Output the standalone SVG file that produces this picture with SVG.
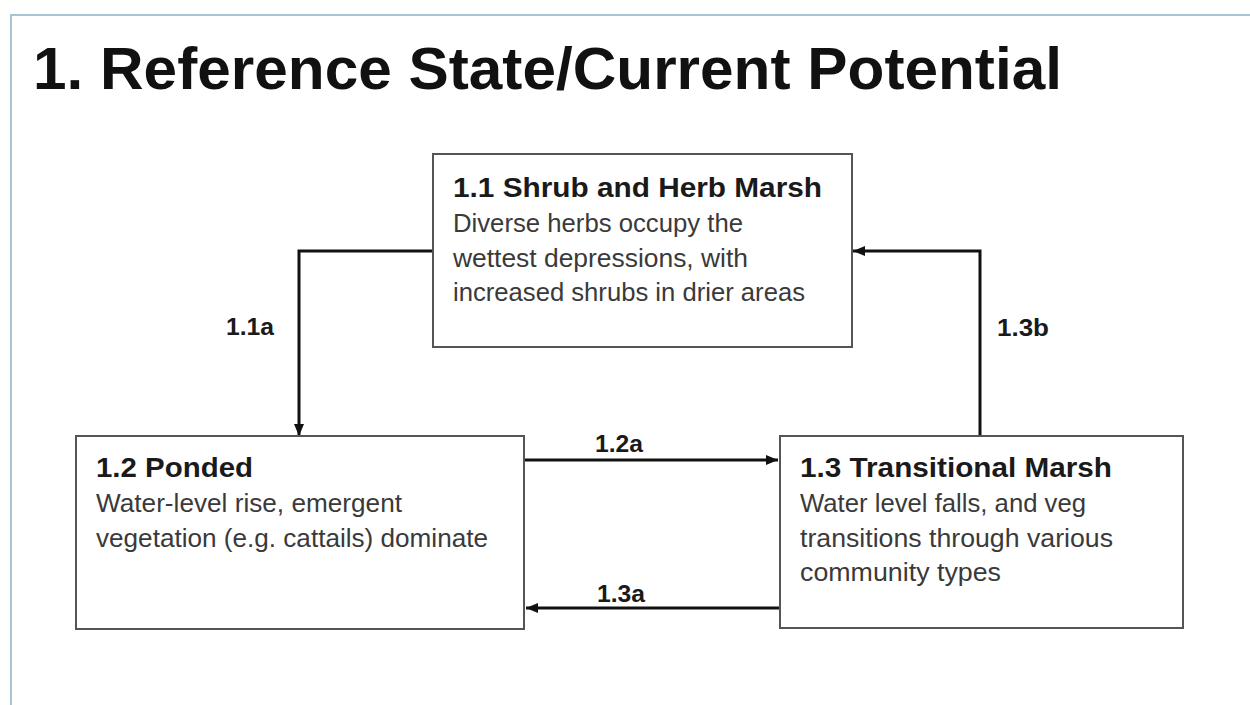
<svg xmlns="http://www.w3.org/2000/svg" width="1250" height="705" viewBox="0 0 1250 705">
<defs>
<style>
.box{fill:#ffffff;stroke:#555555;stroke-width:2}
.ttl{font-family:"Liberation Sans",Arial,sans-serif;font-weight:bold;font-size:28px;fill:#1a1a1a}
.body{font-family:"Liberation Sans",Arial,sans-serif;font-size:25px;fill:#3a3a3a}
.lbl{font-family:"Liberation Sans",Arial,sans-serif;font-weight:bold;font-size:23px;fill:#1a1a1a}
.conn{fill:none;stroke:#111111;stroke-width:3}
</style>
<marker id="arr" viewBox="0 0 12 10" refX="12" refY="5" markerWidth="12" markerHeight="10" markerUnits="userSpaceOnUse" orient="auto">
<path d="M0,0 L12,5 L0,10 z" fill="#111111"/>
</marker>
</defs>
<rect x="0" y="0" width="1250" height="705" fill="#ffffff"/>
<rect x="11" y="15" width="1300" height="800" fill="#ffffff" stroke="#a9c4d0" stroke-width="2"/>
<text x="33" y="89" font-family="Liberation Sans, Arial, sans-serif" font-weight="bold" font-size="60" fill="#111111" textLength="1029" lengthAdjust="spacingAndGlyphs">1. Reference State/Current Potential</text>

<g id="connectors">
<path class="conn" d="M433,251 H299 V436" marker-end="url(#arr)"/>
<path class="conn" d="M980,436 V251 H853" marker-end="url(#arr)"/>
<path class="conn" d="M524,460 H778" marker-end="url(#arr)"/>
<path class="conn" d="M780,608 H526" marker-end="url(#arr)"/>
<text class="lbl" x="226" y="335" textLength="48" lengthAdjust="spacingAndGlyphs">1.1a</text>
<text class="lbl" x="997" y="336" textLength="52" lengthAdjust="spacingAndGlyphs">1.3b</text>
<text class="lbl" x="595" y="452" textLength="48" lengthAdjust="spacingAndGlyphs">1.2a</text>
<text class="lbl" x="597" y="602" textLength="48" lengthAdjust="spacingAndGlyphs">1.3a</text>
</g>

<g id="node-1-1">
<rect class="box" x="433" y="154" width="419" height="193"/>
<text class="ttl" x="453" y="197" textLength="369" lengthAdjust="spacingAndGlyphs">1.1 Shrub and Herb Marsh</text>
<text class="body" x="453" y="232" textLength="290" lengthAdjust="spacingAndGlyphs">Diverse herbs occupy the</text>
<text class="body" x="453" y="267" textLength="295" lengthAdjust="spacingAndGlyphs">wettest depressions, with</text>
<text class="body" x="453" y="301" textLength="352" lengthAdjust="spacingAndGlyphs">increased shrubs in drier areas</text>
</g>

<g id="node-1-2">
<rect class="box" x="76" y="436" width="448" height="193"/>
<text class="ttl" x="96" y="477" textLength="157" lengthAdjust="spacingAndGlyphs">1.2 Ponded</text>
<text class="body" x="96" y="512" textLength="306" lengthAdjust="spacingAndGlyphs">Water-level rise, emergent</text>
<text class="body" x="96" y="547" textLength="392" lengthAdjust="spacingAndGlyphs">vegetation (e.g. cattails) dominate</text>
</g>

<g id="node-1-3">
<rect class="box" x="780" y="436" width="403" height="192"/>
<text class="ttl" x="800" y="477" textLength="312" lengthAdjust="spacingAndGlyphs">1.3 Transitional Marsh</text>
<text class="body" x="800" y="512" textLength="286" lengthAdjust="spacingAndGlyphs">Water level falls, and veg</text>
<text class="body" x="800" y="547" textLength="313" lengthAdjust="spacingAndGlyphs">transitions through various</text>
<text class="body" x="800" y="581" textLength="201" lengthAdjust="spacingAndGlyphs">community types</text>
</g>
</svg>
